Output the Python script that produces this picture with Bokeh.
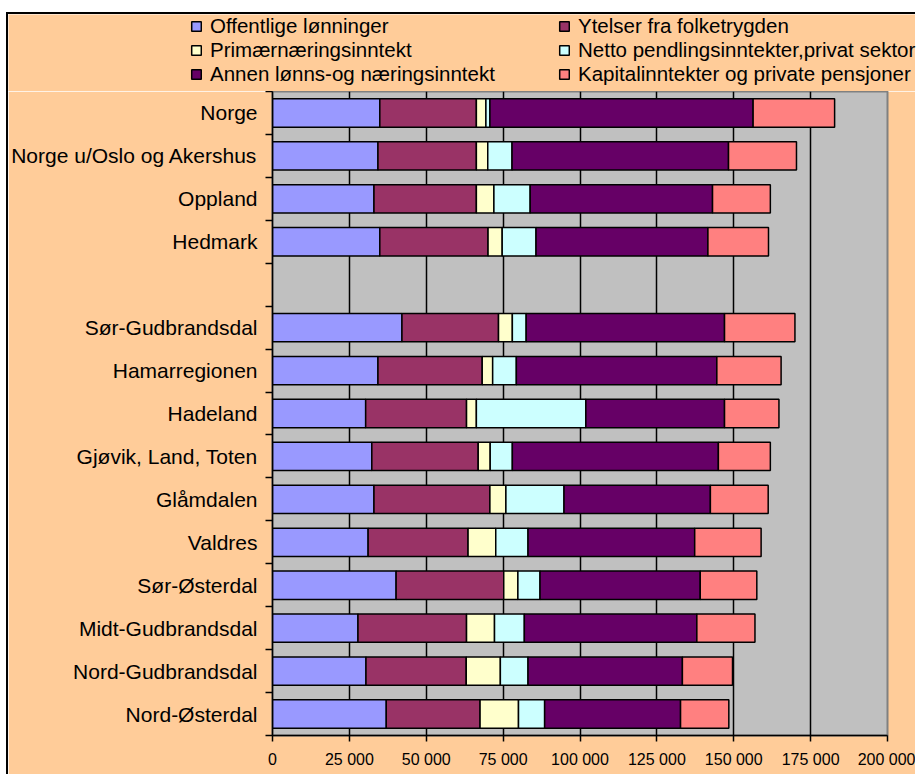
from bokeh.plotting import figure
from bokeh.models import Range1d, FixedTicker, Legend, LegendItem, ColumnDataSource, Spacer
from bokeh.layouts import column, row
from bokeh.embed import file_html
from bokeh.resources import INLINE

# ---- data -------------------------------------------------------------
categories = ["Norge", "Norge u/Oslo og Akershus", "Oppland", "Hedmark", "",
              "Sør-Gudbrandsdal", "Hamarregionen", "Hadeland", "Gjøvik, Land, Toten",
              "Glåmdalen", "Valdres", "Sør-Østerdal", "Midt-Gudbrandsdal",
              "Nord-Gudbrandsdal", "Nord-Østerdal"]

series_names = ["Offentlige lønninger", "Ytelser fra folketrygden",
                "Primærnæringsinntekt", "Netto pendlingsinntekter,privat sektor",
                "Annen lønns-og næringsinntekt", "Kapitalinntekter og private pensjoner"]

offentlige = [34900, 34300, 33000, 34900, None, 42100, 34300, 30300, 32300, 33000, 31100, 40200, 27800, 30400, 37000]
ytelser    = [31400, 32000, 33300, 35200, None, 31400, 33900, 32800, 34600, 37700, 32500, 35000, 35300, 32600, 30500]
primaer    = [3100, 3700, 5700, 4600, None, 4500, 3400, 3200, 3900, 5200, 9000, 4600, 9100, 11100, 12500]
netto      = [1300, 7900, 11800, 11000, None, 4500, 7700, 35600, 7200, 18900, 10500, 7200, 9700, 9000, 8500]
annen      = [85600, 70400, 59300, 55900, None, 64500, 65200, 45100, 67000, 47600, 54200, 52100, 56100, 50200, 44200]
kapital    = [26500, 22100, 18800, 19700, None, 22900, 20900, 17700, 16900, 18800, 21600, 18400, 18900, 16300, 15700]

x_ticks = [0, 25000, 50000, 75000, 100000, 125000, 150000, 175000, 200000]
x_tick_labels = ["0", "25 000", "50 000", "75 000", "100 000", "125 000", "150 000", "175 000", "200 000"]

colors = ["#9999FF", "#993366", "#FFFFCC", "#CCFFFF", "#660066", "#FF8080"]

PEACH = "#FFCC99"
FONT = "Liberation Sans"

# ---- build source -----------------------------------------------------
n = len(categories)
centers = [n - i - 0.5 for i in range(n)]
keys = ["off", "yt", "pri", "net", "ann", "kap"]
all_series = [offentlige, ytelser, primaer, netto, annen, kapital]
rows = [i for i in range(n) if offentlige[i] is not None]
data = {"y": [centers[i] for i in rows]}
for k, s in zip(keys, all_series):
    data[k] = [s[i] for i in rows]
source = ColumnDataSource(data)

# ---- main chart ---------------------------------------------------------
p = figure(width=909, height=683,
           x_range=Range1d(0, 200000), y_range=Range1d(0, n),
           output_backend="svg", toolbar_location=None,
           min_border_left=264, min_border_right=30,
           min_border_top=0, min_border_bottom=39,
           background_fill_color="#C0C0C0", border_fill_color=PEACH,
           outline_line_color="#808080", outline_line_width=2)

renderers = p.hbar_stack(keys, y="y", height=0.66, color=colors, source=source,
                         line_color="black", line_width=1.5)

p.ygrid.visible = False
p.xgrid.grid_line_color = "black"
p.xgrid.grid_line_width = 1.5

xa = p.xaxis[0]
xa.ticker = FixedTicker(ticks=x_ticks)
xa.major_label_overrides = {t: l for t, l in zip(x_ticks, x_tick_labels)}
xa.major_tick_out = 6
xa.major_tick_in = 0
xa.minor_tick_out = 0
xa.minor_tick_in = 0
xa.axis_line_width = 1.5
xa.major_tick_line_width = 1.5
xa.major_label_standoff = 9
xa.major_label_text_font = FONT
xa.major_label_text_font_size = "16px"
xa.major_label_text_color = "black"

ya = p.yaxis[0]
ya.ticker = FixedTicker(ticks=centers, minor_ticks=list(range(n + 1)))
ya.major_label_overrides = {c: lab for c, lab in zip(centers, categories)}
ya.major_tick_out = 0
ya.major_tick_in = 0
ya.minor_tick_out = 7
ya.minor_tick_in = 0
ya.minor_tick_line_color = "black"
ya.minor_tick_line_width = 1.5
ya.axis_line_width = 1.5
ya.major_label_standoff = 8
ya.major_label_text_font = FONT
ya.major_label_text_font_size = "21px"
ya.major_label_text_color = "black"

# ---- legend strip (own figure, so the legend is not clipped) -------------
lg = figure(width=909, height=79, output_backend="svg", toolbar_location=None,
            x_range=Range1d(0, 1), y_range=Range1d(0, 1),
            x_axis_location=None, y_axis_location=None,
            min_border=0, min_border_left=0, min_border_right=0,
            min_border_top=0, min_border_bottom=0,
            background_fill_color=PEACH, border_fill_color=PEACH,
            outline_line_color=None)
lg.grid.visible = False
# swatch renderers kept outside the visible range; only their legend glyphs show
swatches = [lg.hbar(y=[-5], left=[0], right=[1], height=1, fill_color=c,
                    line_color="black", line_width=1.5)
            for c in colors]

def make_legend(idx, loc):
    return Legend(items=[LegendItem(label=series_names[i], renderers=[swatches[i]]) for i in idx],
                  location=loc, orientation="vertical",
                  glyph_width=12, glyph_height=12, label_height=22, spacing=0,
                  padding=0, margin=0, label_standoff=8,
                  label_text_font=FONT, label_text_font_size="20.5px",
                  label_text_color="black",
                  background_fill_alpha=0, border_line_alpha=0)

lg.add_layout(make_legend([0, 2, 4], (182, 7)))
lg.add_layout(make_legend([1, 3, 5], (550, 7)))

lg.styles = {"border-top": "2px solid black", "border-left": "2px solid black"}
p.styles = {"border-left": "2px solid black"}

layout = column(Spacer(height=12), row(Spacer(width=6), column(row(lg), row(p))))
open("out.html", "w").write(file_html(layout, INLINE))
